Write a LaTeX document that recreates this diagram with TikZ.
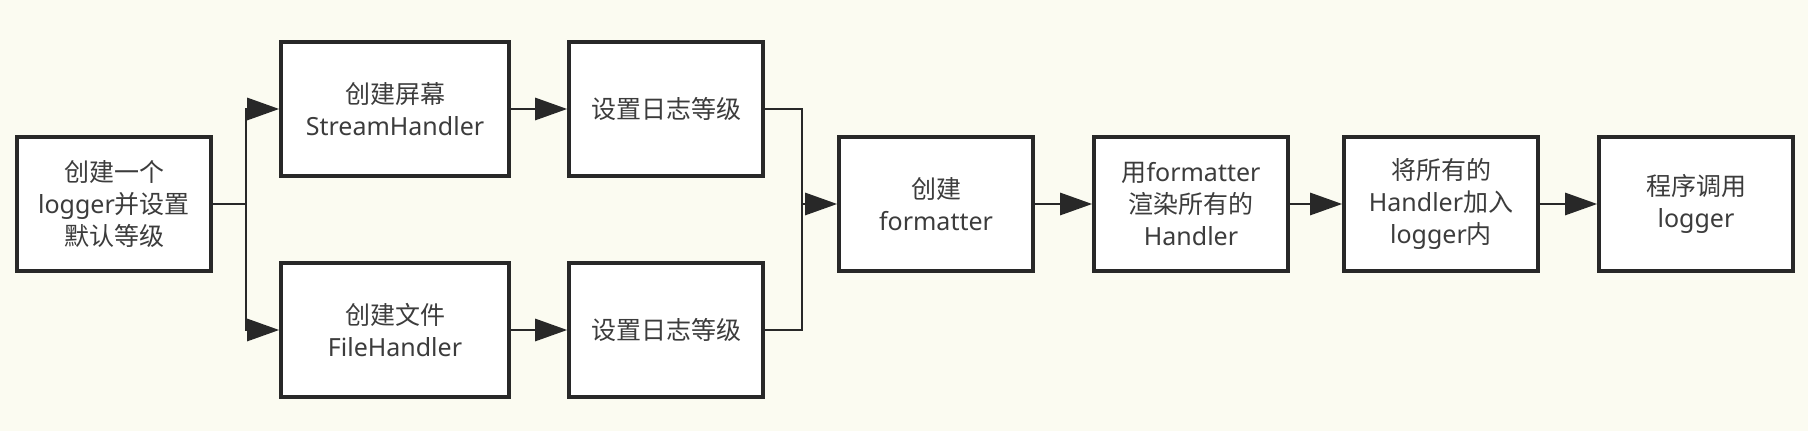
\documentclass[tikz,border=0pt]{standalone}
\usepackage{fontspec}
\setmainfont{Noto Sans}
\newfontfamily\cjk{Noto Sans CJK SC}
\newcommand{\zh}[1]{{\cjk #1}}
\usepackage{tikz}
\usetikzlibrary{arrows.meta,positioning,calc}
\definecolor{paper}{RGB}{251,251,241}
\definecolor{ink}{RGB}{40,40,40}
\definecolor{txt}{RGB}{60,60,60}

\begin{document}
\begin{tikzpicture}[
    x=0.5pt, y=-0.5pt,
    box/.style={rectangle, draw=ink, fill=white, line width=1.8pt, minimum width=97pt, minimum height=67pt, inner sep=2pt, align=center, text=txt, font=\fontsize{12.5}{16}\selectfont},
    widebox/.style={box, minimum width=114pt},
    link/.style={draw=ink, line width=1.4pt},
    arr/.style={link, -{Triangle[length=16pt,width=11pt]}}
]
    \fill[paper] (0,0) rectangle (1808,431);

    % boxes
    \node[box] (logger) at (114,204) {\zh{创建一个}\\logger\zh{并设置}\\\zh{默认等级}};
    \node[widebox] (stream) at (395,109) {\zh{创建屏幕}\\StreamHandler};
    \node[widebox] (file) at (395,330) {\zh{创建文件}\\FileHandler};
    \node[box] (levelA) at (666,109) {\zh{设置日志等级}};
    \node[box] (levelB) at (666,330) {\zh{设置日志等级}};
    \node[box] (fmt) at (936,204) {\zh{创建}\\formatter};
    \node[box] (render) at (1191,204) {\zh{用}formatter\\\zh{渲染所有的}\\Handler};
    \node[box] (add) at (1441,204) {\zh{将所有的}\\Handler\zh{加入}\\logger\zh{内}};
    \node[box] (call) at (1696,204) {\zh{程序调用}\\logger};

    % connectors
    \coordinate (split) at (246,204);
    \coordinate (join) at (802,204);
    \draw[link] (logger) -- (split);
    \draw[arr] (split) |- (stream);
    \draw[arr] (split) |- (file);
    \draw[arr] (stream) -- (levelA);
    \draw[arr] (file) -- (levelB);
    \draw[link] (levelA) -| (join);
    \draw[link] (levelB) -| (join);
    \draw[arr] (join) -- (fmt);
    \draw[arr] (fmt) -- (render);
    \draw[arr] (render) -- (add);
    \draw[arr] (add) -- (call);
\end{tikzpicture}
\end{document}
